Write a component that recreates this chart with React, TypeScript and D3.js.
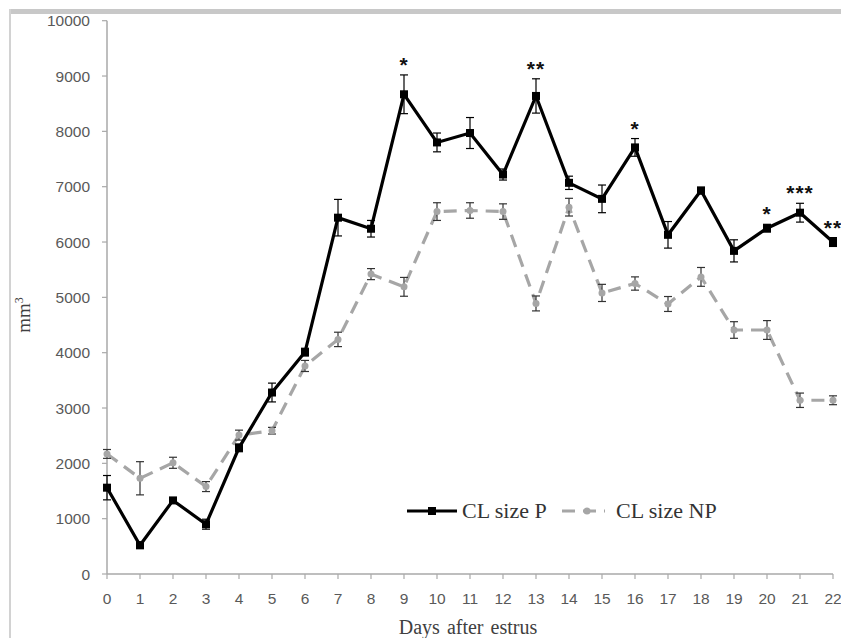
import React from "react";
import { scaleLinear, line } from "d3";

// days after estrus
const days = [0, 1, 2, 3, 4, 5, 6, 7, 8, 9, 10, 11, 12, 13, 14, 15, 16, 17, 18, 19, 20, 21, 22];

// CL size P (mean, SE)
const pMean = [1560, 520, 1330, 900, 2280, 3280, 4010, 6440, 6240, 8670, 7800, 7970, 7220, 8640, 7070, 6780, 7710, 6130, 6930, 5840, 6250, 6530, 6000];
const pErr = [220, 60, 50, 90, 70, 170, 70, 330, 150, 350, 170, 280, 100, 310, 120, 250, 160, 240, 60, 200, 70, 170, 80];

// CL size NP (mean, SE)
const npMean = [2170, 1730, 2010, 1580, 2510, 2590, 3760, 4240, 5420, 5190, 6550, 6570, 6550, 4890, 6630, 5080, 5250, 4880, 5370, 4410, 4410, 3140, 3140];
const npErr = [80, 300, 100, 90, 90, 60, 100, 130, 100, 170, 160, 140, 140, 135, 160, 155, 120, 135, 170, 150, 170, 130, 80];

// significance marks
const stars = ["", "", "", "", "", "", "", "", "", "*", "", "", "", "**", "", "", "*", "", "", "", "*", "***", "**"];

const yTicks = [0, 1000, 2000, 3000, 4000, 5000, 6000, 7000, 8000, 9000, 10000];

const W = 841;
const H = 638;
const gray = "#a6a6a6";
const axisColor = "#a9a9a9";
const tickFont = "'Liberation Sans', 'DejaVu Sans', sans-serif";
const serif = "'Liberation Serif', 'DejaVu Serif', serif";

const App = () => {
  const x = scaleLinear().domain([0, 22]).range([107, 833]);
  const y = scaleLinear().domain([0, 10000]).range([574, 20.7]);

  const lineGen = line<number>()
    .x((d, i) => x(days[i]))
    .y((d) => y(d));

  const errBars = (mean: number[], err: number[], color: string, key: string) =>
    mean.map((m, i) => {
      const cx = x(days[i]);
      const t = y(m + err[i]);
      const b = y(m - err[i]);
      return (
        <g key={key + i} stroke={color} strokeWidth={1.2}>
          <line x1={cx} x2={cx} y1={t} y2={b} />
          <line x1={cx - 4} x2={cx + 4} y1={t} y2={t} />
          <line x1={cx - 4} x2={cx + 4} y1={b} y2={b} />
        </g>
      );
    });

  return (
    <svg width={W} height={H} style={{ position: "absolute", left: 0, top: 0, background: "#fff" }}>
      {/* frame */}
      <rect x={9} y={9} width={W - 9} height={5} fill="#c8c8c8" />
      <rect x={9} y={9} width={2} height={H - 9} fill="#d2d2d2" />

      {/* axes */}
      <line x1={x(0)} x2={x(0)} y1={y(10000)} y2={y(0)} stroke={axisColor} strokeWidth={1.5} />
      <line x1={x(0)} x2={x(22)} y1={y(0)} y2={y(0)} stroke={axisColor} strokeWidth={1.5} />
      {yTicks.map((t) => (
        <g key={"yt" + t}>
          <line x1={x(0) - 5} x2={x(0)} y1={y(t)} y2={y(t)} stroke={axisColor} strokeWidth={1.2} />
          <text x={90} y={y(t)} dy="0.36em" textAnchor="end" fontFamily={tickFont} fontSize={15.5} fill="#595959">
            {t}
          </text>
        </g>
      ))}
      {days.map((d) => (
        <g key={"xt" + d}>
          <line x1={x(d)} x2={x(d)} y1={y(0)} y2={y(0) + 5} stroke={axisColor} strokeWidth={1.2} />
          <text x={x(d)} y={604} textAnchor="middle" fontFamily={tickFont} fontSize={15.5} fill="#595959">
            {d}
          </text>
        </g>
      ))}

      {/* axis titles */}
      <text transform="translate(30,315) rotate(-90)" textAnchor="middle" fontFamily={serif} fontSize={19} fill="#404040">
        mm<tspan dy={-7} fontSize={12}>3</tspan>
      </text>
      <text x={468} y={634} textAnchor="middle" fontFamily={serif} fontSize={20} fill="#404040" wordSpacing={2}>
        Days after estrus
      </text>

      {/* NP series */}
      <path d={lineGen(npMean) || ""} fill="none" stroke={gray} strokeWidth={3.2} strokeDasharray="13,8" />
      {errBars(npMean, npErr, "#333", "ne")}
      {npMean.map((m, i) => (
        <circle key={"nc" + i} cx={x(days[i])} cy={y(m)} r={3.5} fill={gray} />
      ))}

      {/* P series */}
      <path d={lineGen(pMean) || ""} fill="none" stroke="#000" strokeWidth={3.2} strokeLinejoin="miter" />
      {errBars(pMean, pErr, "#000", "pe")}
      {pMean.map((m, i) => (
        <rect key={"pr" + i} x={x(days[i]) - 4} y={y(m) - 4} width={8} height={8} fill="#000" />
      ))}

      {/* significance */}
      {stars.map((s, i) =>
        s ? (
          <text key={"st" + i} x={x(days[i])} y={y(pMean[i] + pErr[i]) - 3} textAnchor="middle" fontFamily={tickFont} fontSize={21} fontWeight="bold" letterSpacing={1} fill="#111">
            {s}
          </text>
        ) : null
      )}

      {/* legend */}
      <line x1={407} x2={457} y1={511} y2={511} stroke="#000" strokeWidth={3.2} />
      <rect x={428} y={507} width={8} height={8} fill="#000" />
      <text x={462} y={518} fontFamily={serif} fontSize={22} fill="#333">CL size P</text>
      <line x1={562} x2={605} y1={511} y2={511} stroke={gray} strokeWidth={3.2} strokeDasharray="13,8" />
      <circle cx={587} cy={511} r={3.5} fill={gray} />
      <text x={616} y={518} fontFamily={serif} fontSize={22} fill="#333">CL size NP</text>
    </svg>
  );
};

export default App;
